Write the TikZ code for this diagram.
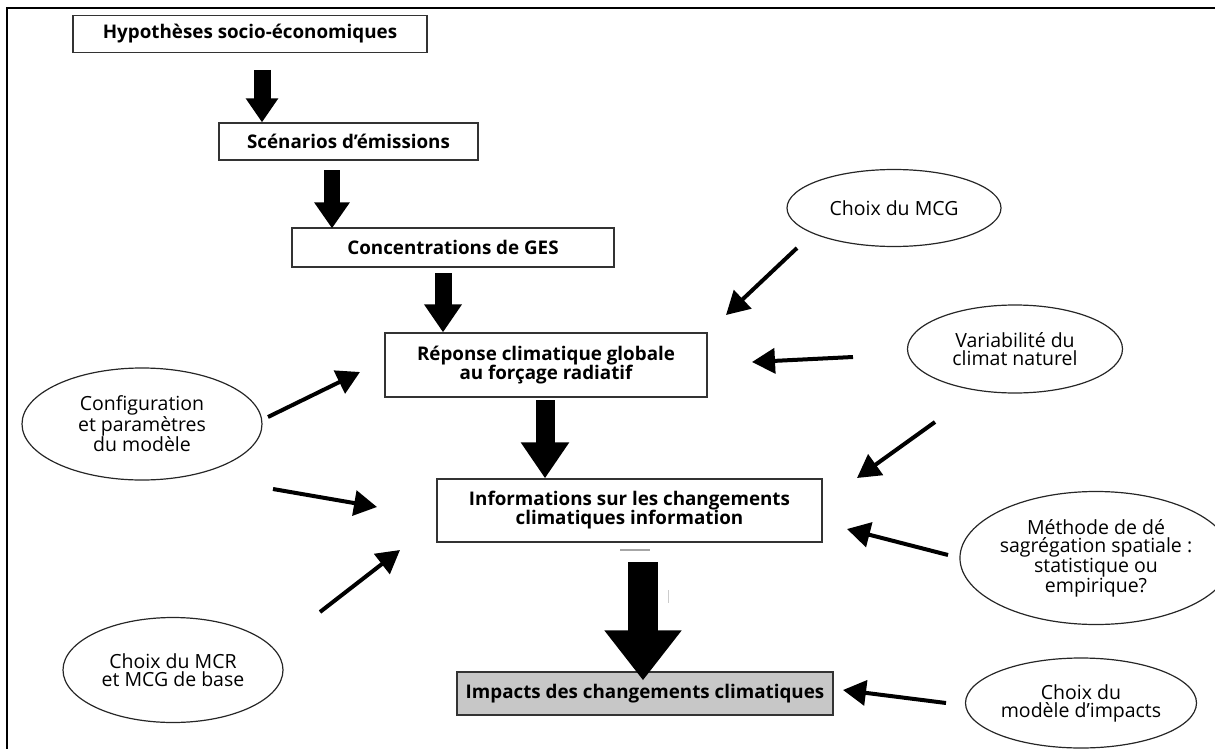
\documentclass[tikz,border=0pt]{standalone}
\usepackage{fontspec}
\setmainfont{Open Sans}
\usetikzlibrary{arrows.meta,shapes.geometric}
\tikzset{
  boxnode/.style={draw=black!80, line width=1.3pt, rectangle, inner sep=0pt, align=center,
    font=\fontsize{18.8}{19}\selectfont\bfseries},
  ovalnode/.style={draw=black!85, line width=1.2pt, ellipse, inner sep=0pt, align=center,
    font=\fontsize{19.5}{18}\selectfont},
  thinarrow/.style={line width=4pt, -{Triangle[width=25pt,length=23pt]}},
  blockarrow/.style={line width=#1, line cap=butt}
}
\begin{document}
\begin{tikzpicture}[x=1pt,y=-1pt]
\useasboundingbox (0,0) rectangle (1215,749);
% frame
\draw[line width=2.5pt] (7,749) -- (7,8) -- (1215,8);

% boxes
\node[boxnode, minimum width=354pt, minimum height=37pt] (hyp) at (250,34) {Hypothèses socio-économiques};
\node[boxnode, minimum width=259pt, minimum height=37pt] (scen) at (348.5,141.5) {Scénarios d'émissions};
\node[boxnode, minimum width=322pt, minimum height=39pt] (conc) at (453,247.5) {Concentrations de GES};
\node[boxnode, minimum width=322pt, minimum height=64pt] (rep) at (546,365) {Réponse climatique globale\\au forçage radiatif};
\node[boxnode, minimum width=385pt, minimum height=63pt] (info) at (629.5,510.5) {Informations sur les changements\\climatiques information};
\node[boxnode, fill=black!22, minimum width=376pt, minimum height=43pt] (imp) at (645,693.5) {Impacts des changements climatiques};

% ellipses
\node[ovalnode, minimum width=214pt, minimum height=77pt] (mcg) at (894,208) {Choix du MCG};
\node[ovalnode, minimum width=215pt, minimum height=88pt] (var) at (1015,349) {Variabilité du\\climat naturel};
\node[ovalnode, minimum width=240pt, minimum height=112pt] (conf) at (142,424) {Configuration\\et paramètres\\du modèle};
\node[ovalnode, minimum width=220pt, minimum height=105pt] (mcr) at (173,670) {Choix du MCR\\et MCG de base};
\node[ovalnode, minimum width=238pt, minimum height=133pt] (meth) at (1096,558) {Méthode de dé\\sagrégation spatiale :\\statistique ou\\empirique?};
\node[ovalnode, minimum width=231pt, minimum height=90pt] (modimp) at (1081,703) {Choix du\\modèle d'impacts};

% block arrows
\coordinate (b1) at (262,70);
\coordinate (b2) at (332,170);
\coordinate (b3) at (443,273);
\coordinate (b4) at (545,400);
\coordinate (b5) at (643,562);
\draw[blockarrow=17pt, -{Triangle[width=31pt,length=24pt]}] (b1) -- (b1 |- scen.north);
\draw[blockarrow=16pt, -{Triangle[width=34pt,length=26pt]}] (b2) -- ([yshift=-1pt]b2 |- conc.north);
\draw[blockarrow=17pt, -{Triangle[width=36pt,length=28pt]}] (b3) -- (b3 |- rep.north);
\draw[blockarrow=19pt, -{Triangle[width=46pt,length=36pt]}] (b4) -- (b4 |- info.north);
\draw[blockarrow=30pt, -{Triangle[width=74pt,length=50pt]}] (b5) -- ([yshift=-9pt]b5 |- imp.north);

% thin arrows
\coordinate (s1) at (797,248); \coordinate (t1) at (726,315);
\coordinate (s2) at (853,357); \coordinate (t2) at (752,362);
\coordinate (s3) at (935,422); \coordinate (t3) at (857,478);
\coordinate (s4) at (948,555); \coordinate (t4) at (847,529);
\coordinate (s5) at (946,703); \coordinate (t5) at (843,690);
\coordinate (s6) at (268,417); \coordinate (t6) at (360,372);
\coordinate (s7) at (273,489); \coordinate (t7) at (377,507);
\coordinate (s8) at (320,612); \coordinate (t8) at (400,550);
\draw[thinarrow] (s1) -- (t1);
\draw[thinarrow] (s2) -- (t2);
\draw[thinarrow] (s3) -- (t3);
\draw[thinarrow] (s4) -- (t4);
\draw[thinarrow] (s5) -- (t5);
\draw[thinarrow] (s6) -- (t6);
\draw[thinarrow] (s7) -- (t7);
\draw[thinarrow] (s8) -- (t8);

% faint marks
\draw[black!35, line width=1.5pt] (620,550) -- (650,550);
\draw[black!20, line width=1pt] (668,590) -- (668,603);
\end{tikzpicture}
\end{document}
